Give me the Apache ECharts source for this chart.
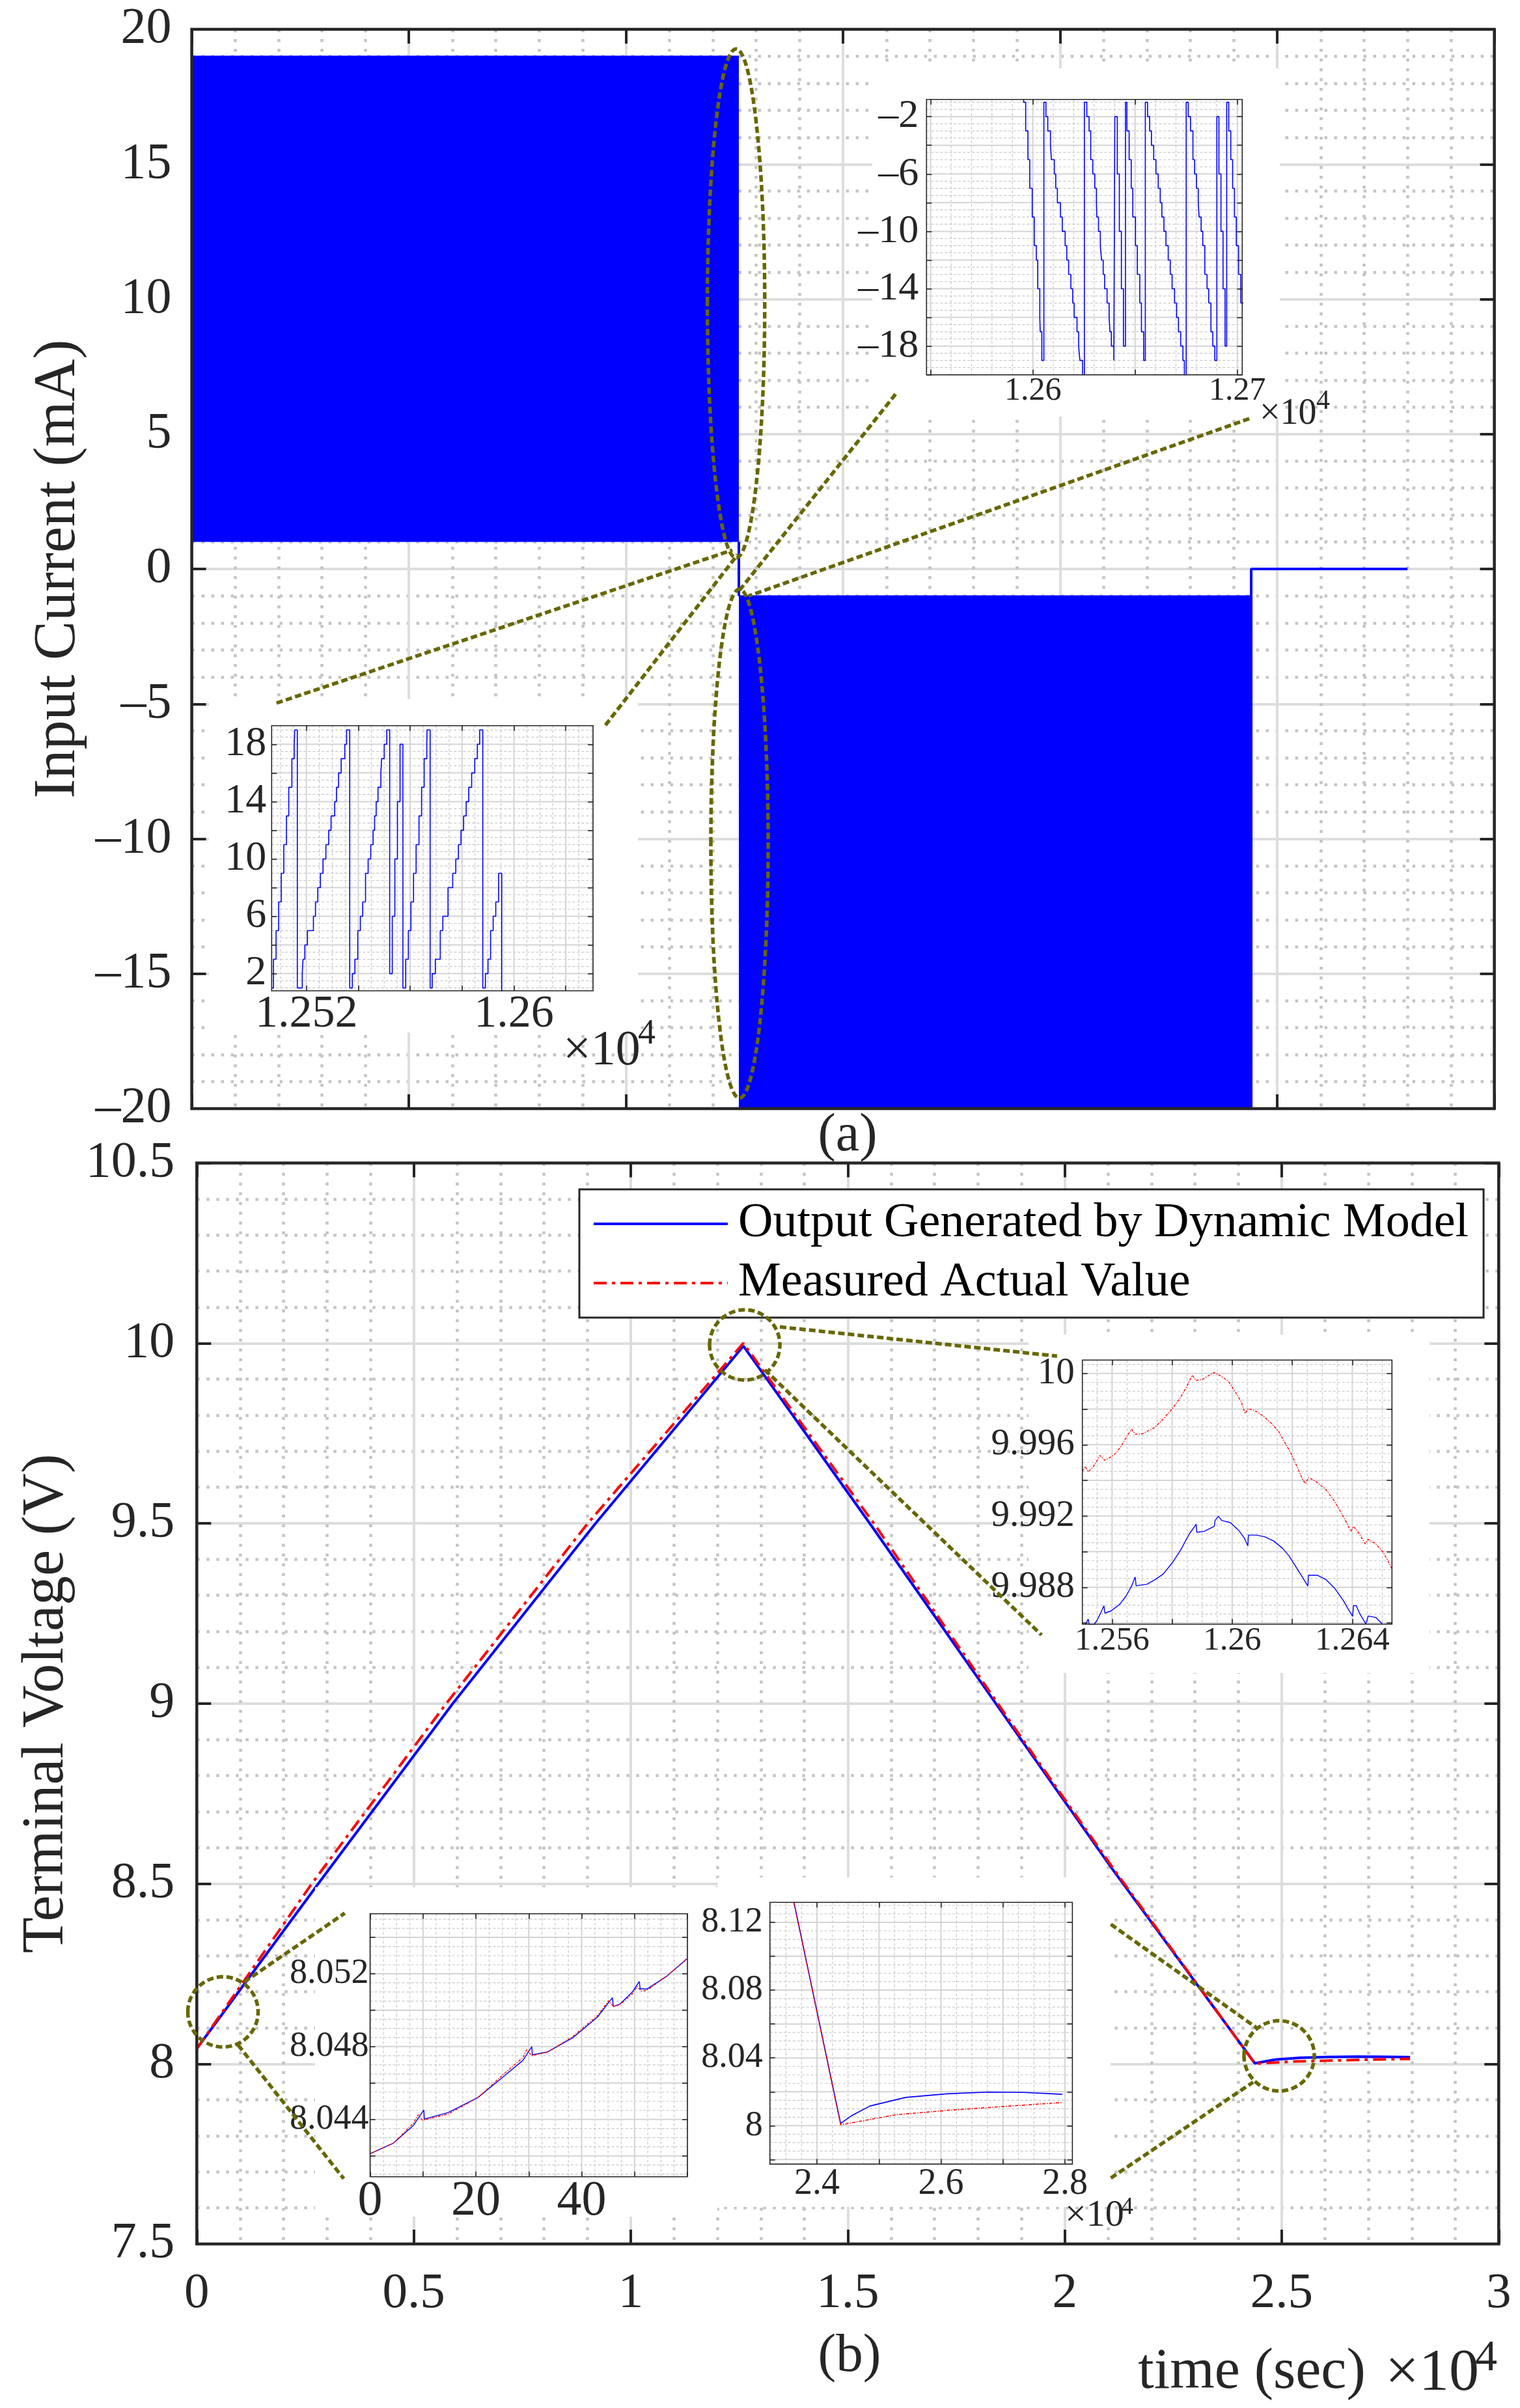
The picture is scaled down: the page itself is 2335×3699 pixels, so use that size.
<!DOCTYPE html>
<html><head><meta charset="utf-8">
<script src="https://cdn.jsdelivr.net/npm/echarts@6/dist/echarts.min.js"></script>
<style>html,body{margin:0;padding:0;background:#fff}#c{width:2335px;height:3699px}</style>
</head><body><div id="c"></div><script>
// ================= DATA =================
// Panel (a): input current (mA) vs time (s)
const chargeEnvelope = [[0, 19], [12600, 19]];          // top of charging pulse band
const chargeFloor = 1;                                   // bottom of charging pulse band
const dischargeEnvelope = [[12600, -1], [24400, -1]];    // top of discharging pulse band
const dischargeFloor = -20;                              // bottom of discharging pulse band
const switchTrace = [[12600, 1], [12600, -1]];
const restTrace = [[24400, -20], [24400, 0], [28000, 0]];

// inset: discharge pulses around 1.26e4 s (step trace)
const zoomDischarge = [[12548,2],[12595.5,-1],[12596.5,-3],[12597.6,-5],[12598.5,-7],[12599.7,-9],[12600.7,-11],[12601.7,-12],[12602.4,-14],[12603.4,-16],[12603.6,-17],[12604.4,-19],
[12605.4,-1],[12606.4,-2],[12607.3,-3],[12608.6,-4],[12609.1,-5],[12610.5,-6],[12611.2,-7],[12612.0,-8],[12613.5,-9],[12614.4,-10],[12615.8,-11],[12616.6,-12],[12617.5,-13],[12618.6,-14],[12619.5,-15],[12620.2,-16],[12621.6,-17],[12622.4,-18],[12623.0,-19],[12624.3,-20],
[12625.2,-1],[12626.4,-2],[12627.5,-3],[12628.3,-5],[12629.3,-6],[12630.3,-7],[12631.1,-8],[12631.3,-9],[12632.1,-10],[12633.0,-11],[12633.6,-12],[12634.4,-13],[12635.1,-14],[12636.3,-15],[12637.3,-16],[12637.7,-17],[12638.4,-18],[12639.6,-19],
[12640.1,-2],[12641.3,-6],[12642.3,-10],[12643.3,-14],[12644.3,-18],
[12645.3,-1],[12646.0,-3],[12647.1,-5],[12648.1,-7],[12648.9,-9],[12650.2,-11],[12651.1,-13],[12652.3,-15],[12653.1,-17],[12654.2,-19],
[12655.0,-1],[12656.1,-2],[12657.1,-3],[12658.0,-4],[12659.1,-5],[12660.2,-6],[12661.3,-7],[12662.3,-8],[12663.1,-9],[12664.1,-10],[12665.1,-11],[12666.2,-12],[12667.2,-13],[12668.1,-14],[12669.3,-15],[12670.3,-16],[12671.2,-17],[12672.3,-18],[12673.4,-19],[12674.1,-20],
[12675.0,-1],[12676.0,-2],[12677.1,-3],[12678.3,-5],[12679.1,-6],[12680.0,-7],[12680.9,-8],[12681.3,-9],[12682.3,-10],[12683.1,-11],[12684.1,-13],[12685.2,-14],[12686.0,-15],[12687.1,-17],[12688.0,-18],[12689.0,-19],
[12690.0,-2],[12691.0,-6],[12692.0,-10],[12693.0,-14],[12694.0,-18],
[12694.8,-1],[12695.8,-3],[12696.8,-5],[12697.7,-7],[12698.6,-9],[12699.5,-11],[12700.6,-13],[12701.7,-15],[12703,-15]];

// inset: charge pulses just before 1.26e4 s (step trace)
const zoomCharge = [[12506.6,1],[12507.3,3],[12508.3,5],[12509.3,7],[12510.3,9],[12511.3,11],[12512.3,13],[12513.2,15],[12514.4,17],[12515.3,18],[12515.5,19],
[12516.5,1],[12518.4,2],[12518.7,3],[12519.4,4],[12520.4,5],[12522.7,6],[12523.5,7],[12524.4,8],[12525.4,9],[12526.4,10],[12527.5,11],[12528.6,12],[12529.5,13],[12530.9,14],[12531.6,15],[12532.4,16],[12533.4,17],[12534.8,18],[12535.5,19],
[12536.7,1],[12537.7,2],[12538.7,3],[12539.8,5],[12540.8,6],[12541.7,7],[12542.8,9],[12543.8,10],[12544.8,11],[12545.7,12],[12546.3,13],[12546.9,14],[12547.6,15],[12548.7,16],[12549.0,17],[12550.0,18],[12551.0,19],
[12552.1,2],[12553.1,6],[12554.1,10],[12555.1,14],[12556.1,18],
[12557.2,1],[12558.3,3],[12559.3,5],[12560.3,7],[12561.3,9],[12562.3,11],[12563.4,13],[12564.4,15],[12565.4,17],[12566.4,18],[12566.5,19],
[12567.7,1],[12568.5,2],[12569.7,3],[12571.6,5],[12572.6,6],[12574.6,8],[12576.4,9],[12577.6,10],[12578.6,11],[12579.6,12],[12580.6,13],[12581.6,14],[12582.6,15],[12583.7,16],[12584.9,17],[12585.9,18],[12586.8,19],
[12588.0,1],[12589.0,2],[12590.0,3],[12591.0,5],[12592.0,6],[12593.0,7],[12594.1,9],[12595.3,-2],[12631,-2]];

// Panel (b): terminal voltage (V) vs time (s)
const modelVoltage = [[0,8.042],[2800,8.5],[5900,9.0],[9190,9.5],[12595,9.992],[15506,9.5],[18759,8.94],[21100,8.54],[24381,8.0013],[24853,8.0116],[25432,8.0167],[26094,8.0188],[26757,8.0198],[27336,8.0196],[27957,8.0185]];
const measuredVoltage = [[0,8.042],[2650,8.5],[5750,9.0],[9010,9.5],[12594,10.0],[15600,9.5],[18800,8.94],[21130,8.54],[24381,8.0005],[25267,8.0064],[26094,8.009],[26922,8.0111],[27957,8.0137]];

// inset: around the peak
const peakModel = [[12551.1,9.9859],[12552.05,9.98622],[12552.4,9.9859],[12553.9,9.9859],[12554.9,9.98612],[12556.0,9.98649],[12557.3,9.98697],[12557.6,9.98655],[12559.6,9.98667],[12562.5,9.98704],[12564.7,9.98752],[12566.5,9.98807],[12567.7,9.98858],[12568.0,9.98809],[12571.6,9.98817],[12574.1,9.98841],[12577.0,9.98874],[12580.2,9.98941],[12582.8,9.99008],[12585.7,9.99099],[12588.0,9.99154],[12588.2,9.99109],[12590.7,9.99114],[12594.0,9.99142],[12594.3,9.99175],[12595.4,9.99199],[12596.5,9.99175],[12599.4,9.99163],[12602.3,9.99117],[12604.1,9.99075],[12605.2,9.99032],[12605.4,9.99093],[12608.1,9.99093],[12610.9,9.99083],[12613.8,9.9906],[12616.7,9.9902],[12618.9,9.98977],[12620.7,9.98929],[12623.2,9.98862],[12625.2,9.98807],[12625.4,9.98868],[12628.3,9.98868],[12631.2,9.98844],[12634.1,9.98795],[12636.95,9.98728],[12638.4,9.98685],[12640.1,9.98637],[12640.4,9.98697],[12641.3,9.98697],[12642.4,9.98655],[12644.5,9.98594],[12645.3,9.98639],[12647.8,9.98631],[12650.0,9.98594]];
const peakMeasured = [[12550.1,9.99452],[12551.0,9.99479],[12552.05,9.99449],[12553.1,9.99464],[12554.2,9.99489],[12556.0,9.9954],[12557.5,9.99513],[12559.6,9.99531],[12561.45,9.99556],[12563.25,9.99598],[12564.7,9.99641],[12566.5,9.99687],[12567.7,9.99659],[12570.1,9.99662],[12574.1,9.99696],[12577.0,9.99744],[12579.9,9.99799],[12582.8,9.99866],[12584.9,9.99927],[12586.7,9.99991],[12588.0,9.99961],[12590.0,9.99966],[12592.15,9.99988],[12594.0,10.00005],[12595.8,9.9999],[12598.7,9.99957],[12600.8,9.99903],[12603.0,9.99842],[12604.3,9.99775],[12605.3,9.99803],[12608.05,9.99787],[12610.2,9.99763],[12613.1,9.9972],[12615.6,9.99671],[12617.4,9.99617],[12619.6,9.9955],[12621.8,9.9947],[12623.4,9.99406],[12624.45,9.99382],[12625.4,9.99416],[12627.6,9.99397],[12631.2,9.99349],[12634.1,9.99282],[12636.2,9.99221],[12638.0,9.99166],[12639.5,9.99114],[12640.4,9.99142],[12642.4,9.99099],[12644.3,9.99044],[12645.3,9.99069],[12647.8,9.99044],[12650.3,9.98996],[12652.1,9.98941],[12653.2,9.98904]];

// inset: first minute
const startModel = [[0,8.04212],[4.42,8.0427],[8.18,8.04367],[10.16,8.04452],[10.25,8.04402],[14.77,8.04438],[20.41,8.04521],[25.12,8.04633],[28.88,8.04724],[30.57,8.048],[30.67,8.04755],[33.58,8.04771],[38.29,8.04848],[42.99,8.04962],[45.81,8.05069],[46.0,8.05021],[47.22,8.05033],[49.58,8.051],[50.89,8.05157],[51.08,8.05117],[52.4,8.05117],[56.16,8.05188],[59.92,8.05283]];
const startMeasured = [[0,8.04212],[4.4,8.0427],[8.2,8.0438],[9.1,8.04426],[9.9,8.04395],[14.8,8.0443],[20.4,8.0452],[25.1,8.04645],[28.9,8.0474],[29.6,8.04783],[30.6,8.0475],[33.6,8.0477],[38.3,8.04855],[43.0,8.0497],[45.1,8.05052],[46.0,8.0502],[47.2,8.0503],[49.6,8.0509],[50.5,8.0513],[51.3,8.05105],[52.4,8.0511],[56.2,8.0519],[59.9,8.0528]];

// inset: end of discharge and rest
const endModel = [[23627,8.132],[24381,8.0013],[24563,8.006],[24853,8.0116],[25432,8.0167],[26094,8.0188],[26757,8.0198],[27336,8.0196],[27957,8.0185]];
const endMeasured = [[23627,8.132],[24381,8.0005],[25267,8.0064],[26094,8.009],[26922,8.0111],[27957,8.0137]];

// tick labels
const timeTickLabels = ['0', '0.5', '1', '1.5', '2', '2.5', '3'];
const dischargeZoomXLabels = [12600, 12700];
const dischargeZoomYLabels = [-18, -14, -10, -6, -2];
const chargeZoomXLabels = [12520, 12600];
const chargeZoomYLabels = [2, 6, 10, 14, 18];
const peakZoomXLabels = [12560, 12600, 12640];
const peakZoomYLabels = [9.988, 9.992, 9.996, 10];
const startZoomXLabels = [0, 20, 40];
const startZoomYLabels = [8.044, 8.048, 8.052];
const endZoomXLabels = [24000, 26000, 28000];
const endZoomYLabels = [8, 8.04, 8.08, 8.12];

const legendNames = ['Output Generated by Dynamic Model', 'Measured Actual Value'];

// ================= STYLE / LAYOUT =================
const FONT = 'Liberation Serif';
const INK = '#262626';
const BLUE = '#0000ff';
const RED = '#ff0000';
const OLIVE = '#676700';
const dashDot = [20, 8, 5, 8];
const dash = (v) => v < 0 ? '\u2013' + Math.abs(v) : String(v);
const div4 = (v) => String(Math.round(v) / 10000);

const chart = echarts.init(document.getElementById('c'), null, {width: 2335, height: 3699});

const grid = [
  {left: 294.6, top: 45, width: 2001, height: 1658},
  {left: 302.3, top: 1786.5, width: 2000, height: 1660.5},
  {left: 1423.3, top: 152.7, width: 485, height: 423},
  {left: 417.3, top: 1114.7, width: 493.7, height: 407.3},
  {left: 1662.7, top: 2089.3, width: 475.6, height: 405.7},
  {left: 568.6, top: 2939.7, width: 487.4, height: 404.1},
  {left: 1182.7, top: 2922.3, width: 464.7, height: 402.1}
].map((g, i) => Object.assign(g, {
  show: true, containLabel: false, backgroundColor: 'rgba(0,0,0,0)',
  borderColor: INK, borderWidth: i < 2 ? 4.5 : 1.6, z: i < 2 ? 3 : 12
}));

const xAxis = [], yAxis = [], series = [];
const noLine = {show: false, onZero: false};

function mainAxisPair(list, gi, base, primaryExtra, isX) {
  const tick = {show: true, inside: true, length: 22, lineStyle: {width: 4, color: INK}};
  list.push(Object.assign({
    type: 'value', gridIndex: gi, axisLine: noLine, axisTick: tick,
    splitLine: {show: true, lineStyle: {color: '#dddddd', width: 4}},
    minorTick: {show: false, splitNumber: 5},
    minorSplitLine: {show: true, lineStyle: {color: '#c4c4c4', width: 4.5, type: [4.5, 10.5]}},
    z: 0
  }, base, primaryExtra));
  list.push(Object.assign({
    type: 'value', gridIndex: gi, position: isX ? 'top' : 'right',
    axisLine: noLine, axisTick: tick, axisLabel: {show: false},
    splitLine: {show: false}, z: 0
  }, base));
}

// main (a)
mainAxisPair(xAxis, 0, {min: 0, max: 30000, interval: 5000}, {position: 'bottom', axisLabel: {show: false}}, true);
mainAxisPair(yAxis, 0, {min: -20, max: 20, interval: 5}, {
  position: 'left',
  axisLabel: {fontSize: 78, fontFamily: FONT, color: INK, margin: 31, formatter: dash},
  name: 'Input Current (mA)', nameLocation: 'middle', nameGap: 150,
  nameTextStyle: {fontSize: 90, fontFamily: FONT, color: INK}
}, false);
// main (b)
mainAxisPair(xAxis, 1, {min: 0, max: 30000, interval: 5000}, {
  position: 'bottom',
  axisLabel: {fontSize: 77, fontFamily: FONT, color: INK, margin: 38,
    formatter: (v) => timeTickLabels[Math.round(v / 5000)]}
}, true);
mainAxisPair(yAxis, 1, {min: 7.5, max: 10.5, interval: 0.5}, {
  position: 'left',
  axisLabel: {fontSize: 78, fontFamily: FONT, color: INK, margin: 34},
  name: 'Terminal Voltage (V)', nameLocation: 'middle', nameGap: 185,
  nameTextStyle: {fontSize: 90, fontFamily: FONT, color: INK}
}, false);

// insets
function range(a, b, s) { const out = []; for (let i = 0; ; i++) { const v = Math.round((a + i * s) * 1e7) / 1e7; if (v > b + 1e-9) break; out.push(v); } return out; }
const insets = [
  {gi: 2, x: [12548, 12702.4], y: [-20, -0.8], xMaj: [12550, 50], xMin: [12550, 10], yMaj: [-20, 2], yMin: [-20, 0.5],
   xLab: dischargeZoomXLabels, yLab: dischargeZoomYLabels, xFmt: div4, yFmt: dash, xFont: 50, yFont: 62, xM: 0, yM: 12},
  {gi: 3, x: [12506.6, 12630.5], y: [0.8, 19.3], xMaj: [12520, 20], xMin: [12510, 5], yMaj: [2, 2], yMin: [1, 0.5],
   xLab: chargeZoomXLabels, yLab: chargeZoomYLabels, xFmt: div4, yFmt: String, xFont: 70, yFont: 64, xM: 2, yM: 8},
  {gi: 4, x: [12550.1, 12653.2], y: [9.98593, 10.00075], xMaj: [12560, 20], xMin: [12555, 5], yMaj: [9.986, 0.002], yMin: [9.986, 0.0005],
   xLab: peakZoomXLabels, yLab: peakZoomYLabels, xFmt: div4, yFmt: String, xFont: 51, yFont: 57, xM: 0, yM: 12},
  {gi: 5, x: [0, 60], y: [8.04085, 8.0553], xMaj: [0, 10], xMin: [0, 2.5], yMaj: [8.042, 0.002], yMin: [8.041, 0.0005],
   xLab: startZoomXLabels, yLab: startZoomYLabels, xFmt: String, yFmt: String, xFont: 76, yFont: 54, xM: 0, yM: 2},
  {gi: 6, x: [23240, 28120], y: [7.9773, 8.1318], xMaj: [24000, 1000], xMin: [23250, 250], yMaj: [7.98, 0.02], yMin: [7.98, 0.005],
   xLab: endZoomXLabels, yLab: endZoomYLabels, xFmt: div4, yFmt: String, xFont: 56, yFont: 54, xM: 3, yM: 11}
];

insets.forEach((c) => {
  const xMajors = range(c.xMaj[0], c.x[1], c.xMaj[1]).filter(v => v >= c.x[0]);
  const yMajors = range(c.yMaj[0], c.y[1], c.yMaj[1]).filter(v => v >= c.y[0]);
  const onMajor = (v, m) => Math.abs(((v - m[0]) / m[1]) - Math.round((v - m[0]) / m[1])) < 1e-6;
  const xMinors = range(c.xMin[0], c.x[1], c.xMin[1]).filter(v => v >= c.x[0] && !onMajor(v, c.xMaj));
  const yMinors = range(c.yMin[0], c.y[1], c.yMin[1]).filter(v => v >= c.y[0] && !onMajor(v, c.yMaj));
  const tick = (vals) => ({show: true, inside: true, length: 8, customValues: vals, lineStyle: {width: 1.6, color: INK}});
  const baseX = {type: 'value', gridIndex: c.gi, min: c.x[0], max: c.x[1], axisLine: noLine, splitLine: {show: false}, z: 10};
  const baseY = {type: 'value', gridIndex: c.gi, min: c.y[0], max: c.y[1], axisLine: noLine, splitLine: {show: false}, z: 10};
  xAxis.push(Object.assign({}, baseX, {position: 'bottom', axisTick: tick(xMajors),
    axisLabel: {customValues: c.xLab, formatter: c.xFmt, fontSize: c.xFont, fontFamily: FONT, color: INK, margin: c.xM}}));
  xAxis.push(Object.assign({}, baseX, {position: 'top', axisTick: tick(xMajors), axisLabel: {show: false}}));
  yAxis.push(Object.assign({}, baseY, {position: 'left', axisTick: tick(yMajors),
    axisLabel: {customValues: c.yLab, formatter: c.yFmt, fontSize: c.yFont, fontFamily: FONT, color: INK, margin: c.yM}}));
  yAxis.push(Object.assign({}, baseY, {position: 'right', axisTick: tick(yMajors), axisLabel: {show: false}}));
  const lines = [];
  xMinors.forEach(v => lines.push([0, v, 0]));
  yMinors.forEach(v => lines.push([1, v, 0]));
  xMajors.forEach(v => lines.push([0, v, 1]));
  yMajors.forEach(v => lines.push([1, v, 1]));
  series.push({
    type: 'custom', xAxisIndex: 2 * c.gi, yAxisIndex: 2 * c.gi, z: 7, silent: true, data: lines,
    renderItem: (params, api) => {
      const cs = params.coordSys;
      const dir = api.value(0), v = api.value(1), major = api.value(2);
      let shape;
      if (dir === 0) { const p = api.coord([v, c.y[0]]); shape = {x1: p[0], y1: cs.y, x2: p[0], y2: cs.y + cs.height}; }
      else { const p = api.coord([c.x[0], v]); shape = {x1: cs.x, y1: p[1], x2: cs.x + cs.width, y2: p[1]}; }
      return {type: 'line', shape,
        style: major ? {stroke: '#d4d4d4', lineWidth: 2} : {stroke: '#c8c8c8', lineWidth: 1.2, lineDash: [4, 3]}};
    }
  });
});

// main (a) series
const mainLine = {type: 'line', symbol: 'none', showSymbol: false, animation: false, z: 2};
series.push(Object.assign({}, mainLine, {xAxisIndex: 0, yAxisIndex: 0, data: chargeEnvelope,
  lineStyle: {color: BLUE, width: 2}, areaStyle: {color: BLUE, opacity: 1, origin: chargeFloor}}));
series.push(Object.assign({}, mainLine, {xAxisIndex: 0, yAxisIndex: 0, data: dischargeEnvelope,
  lineStyle: {color: BLUE, width: 2}, areaStyle: {color: BLUE, opacity: 1, origin: dischargeFloor}}));
series.push(Object.assign({}, mainLine, {xAxisIndex: 0, yAxisIndex: 0, data: switchTrace, lineStyle: {color: BLUE, width: 4}}));
series.push(Object.assign({}, mainLine, {xAxisIndex: 0, yAxisIndex: 0, data: restTrace, lineStyle: {color: BLUE, width: 4}}));
// main (b) series
series.push(Object.assign({}, mainLine, {name: legendNames[0], xAxisIndex: 2, yAxisIndex: 2, data: modelVoltage,
  lineStyle: {color: BLUE, width: 4}, itemStyle: {color: BLUE, opacity: 0}}));
series.push(Object.assign({}, mainLine, {name: legendNames[1], xAxisIndex: 2, yAxisIndex: 2, data: measuredVoltage,
  lineStyle: {color: RED, width: 4, type: dashDot}, itemStyle: {color: RED, opacity: 0}}));

// inset data series
const insetLine = {type: 'line', symbol: 'none', showSymbol: false, animation: false, z: 9, clip: true};
series.push(Object.assign({}, insetLine, {xAxisIndex: 4, yAxisIndex: 4, data: zoomDischarge, step: 'end', lineStyle: {color: BLUE, width: 1.6}}));
series.push(Object.assign({}, insetLine, {xAxisIndex: 6, yAxisIndex: 6, data: zoomCharge, step: 'end', lineStyle: {color: BLUE, width: 1.6}}));
series.push(Object.assign({}, insetLine, {xAxisIndex: 8, yAxisIndex: 8, data: peakModel, lineStyle: {color: BLUE, width: 1.4}}));
series.push(Object.assign({}, insetLine, {xAxisIndex: 8, yAxisIndex: 8, data: peakMeasured, lineStyle: {color: RED, width: 1.4, type: [4, 2, 1.5, 2]}}));
series.push(Object.assign({}, insetLine, {xAxisIndex: 10, yAxisIndex: 10, data: startModel, lineStyle: {color: BLUE, width: 1.4}}));
series.push(Object.assign({}, insetLine, {xAxisIndex: 10, yAxisIndex: 10, data: startMeasured, lineStyle: {color: RED, width: 1.4, type: [4, 2, 1.5, 2]}}));
series.push(Object.assign({}, insetLine, {xAxisIndex: 12, yAxisIndex: 12, data: endModel, lineStyle: {color: BLUE, width: 1.6}}));
series.push(Object.assign({}, insetLine, {xAxisIndex: 12, yAxisIndex: 12, data: endMeasured, lineStyle: {color: RED, width: 1.6, type: [5, 2, 1.5, 2]}}));

chart.setOption({
  animation: false,
  backgroundColor: '#ffffff',
  textStyle: {fontFamily: FONT},
  grid, xAxis, yAxis, series,
  legend: {
    data: legendNames, orient: 'vertical', left: 890, top: 1827, z: 20,
    backgroundColor: '#ffffff', borderColor: INK, borderWidth: 3, borderRadius: 0,
    padding: [13, 23, 13, 20], itemWidth: 206, itemHeight: 20, itemGap: 11,
    itemStyle: {opacity: 0}, lineStyle: {width: 4},
    textStyle: {fontSize: 74, fontFamily: FONT, color: '#000', lineHeight: 80, padding: [0, 0, 0, 11]}
  }
});

// ================= ANNOTATIONS (anchored in data coordinates) =================
const px = (gi, p) => chart.convertToPixel({gridIndex: gi}, p);
const dashStyle = {fill: 'none', stroke: OLIVE, lineWidth: 5.5, lineDash: [10, 5]};
const gfx = [];
function ellipse(gi, c, half) {
  const a = px(gi, c), b = px(gi, [c[0] + half[0], c[1] + half[1]]);
  gfx.push({type: 'ellipse', z: 30, silent: true, shape: {cx: a[0], cy: a[1], rx: Math.abs(b[0] - a[0]), ry: Math.abs(b[1] - a[1])}, style: dashStyle});
}
function seg(gi, p, q) {
  const a = px(gi, p), b = px(gi, q);
  gfx.push({type: 'line', z: 30, silent: true, shape: {x1: a[0], y1: a[1], x2: b[0], y2: b[1]}, style: dashStyle});
}
function whiteBox(x, y, w, h) { gfx.push({type: 'rect', z: 5, silent: true, shape: {x, y, width: w, height: h}, style: {fill: '#fff'}}); }
function label(x, y, text, size, align) {
  gfx.push({type: 'text', z: 25, silent: true, x, y, style: {text, fontSize: size, fontFamily: FONT, fill: INK, align: align || 'center', verticalAlign: 'middle'}});
}

// inset white backdrops
whiteBox(1340, 105, 626, 535);
whiteBox(321, 1074, 659, 512);
whiteBox(1580, 2050, 616, 520);
whiteBox(484, 2899, 618, 506);
whiteBox(1102, 2884, 604, 506);

// panel (a) callouts
ellipse(0, [12536, 9.84], [660, 9.43]);
ellipse(0, [12615, -10.18], [660, 9.43]);
seg(0, [1951, -4.97], [12450, 0.7]);
seg(0, [9527, -5.79], [12571, 0.53]);
seg(0, [16209, 6.48], [12571, -0.88]);
seg(0, [24355, 5.57], [12824, -1.0]);
// panel (b) callouts
ellipse(1, [12626, 9.995], [810, 0.0975]);
seg(1, [13436, 10.045], [19823, 9.964]);
seg(1, [13088, 9.926], [19466, 9.19]);
ellipse(1, [603, 8.144], [810, 0.0975]);
seg(1, [1091, 8.227], [3410, 8.418]);
seg(1, [953, 8.052], [3386, 7.681]);
ellipse(1, [24941, 8.022], [810, 0.0975]);
seg(1, [21063, 8.387], [24431, 8.099]);
seg(1, [21063, 7.683], [24341, 7.949]);

// texts
label(1302, 1745, '(a)', 82);
label(1305, 3620, '(b)', 83);
label(1923, 3645, 'time (sec)', 88);
label(2128, 3647, '\u00d710', 92, 'left');
label(2266, 3623, '4', 68, 'left');
label(1935, 636, '\u00d710', 56, 'left');
label(2022, 617, '4', 42, 'left');
label(865, 1615, '\u00d710', 76, 'left');
label(980, 1589, '4', 54, 'left');
label(1636, 3404, '\u00d710', 58, 'left');
label(1722, 3391, '4', 38, 'left');

chart.setOption({graphic: {elements: gfx}});
</script></body></html>
